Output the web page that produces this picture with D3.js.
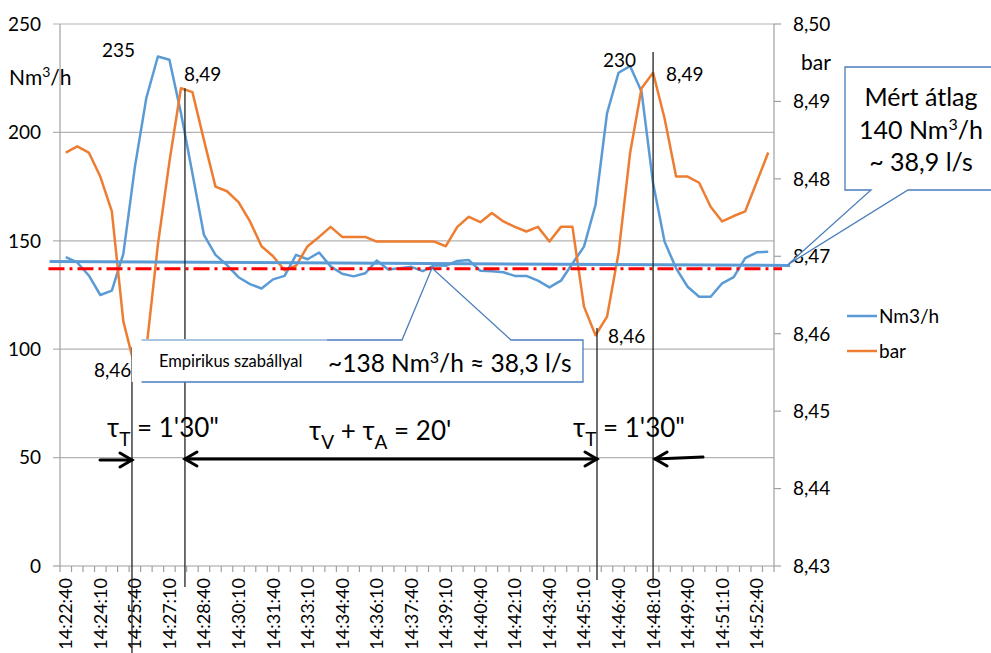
<!DOCTYPE html>
<html><head><meta charset="utf-8">
<script src="https://cdn.jsdelivr.net/npm/d3@7"></script>
<style>
body{margin:0;background:#fff}
svg{display:block}
text{font-family:Lato,'DejaVu Sans',sans-serif;fill:#000}
</style>
</head><body>
<svg id="c" width="991" height="653"></svg>
<script>
// ---------- data ----------
const times = ["14:22:40","14:23:10","14:23:40","14:24:10","14:24:40","14:25:10","14:25:40","14:26:10","14:26:40","14:27:10",
"14:27:40","14:28:10","14:28:40","14:29:10","14:29:40","14:30:10","14:30:40","14:31:10","14:31:40","14:32:10",
"14:32:40","14:33:10","14:33:40","14:34:10","14:34:40","14:35:10","14:35:40","14:36:10","14:36:40","14:37:10",
"14:37:40","14:38:10","14:38:40","14:39:10","14:39:40","14:40:10","14:40:40","14:41:10","14:41:40","14:42:10",
"14:42:40","14:43:10","14:43:40","14:44:10","14:44:40","14:45:10","14:45:40","14:46:10","14:46:40","14:47:10",
"14:47:40","14:48:10","14:48:40","14:49:10","14:49:40","14:50:10","14:50:40","14:51:10","14:51:40","14:52:10",
"14:52:40","14:53:10"];
const flow = [142.5,140,134,125,127,144,184,216,235,233.5,
209,181,152.7,143.5,138.8,133.2,130,128,132.2,133.8,
143.5,141.5,144.6,138.2,134.8,133.6,135,140.9,136.8,137.3,
138,136,138.7,138.5,140.7,141.1,136.2,136,135.5,133.8,
133.8,131.6,128.5,131.6,139.5,147.3,166.5,208.8,227.5,230.6,
218.8,176.5,149.6,137.3,128.8,124.2,124.2,130.4,133.2,142,
144.7,145];
const pressure = [8.4834,8.4842,8.4834,8.4803,8.4758,8.4616,8.4557,8.4580,8.4715,8.4822,
8.4917,8.4912,8.4850,8.4790,8.4784,8.4770,8.4745,8.4713,8.4700,8.4682,
8.4688,8.4713,8.4725,8.4738,8.4725,8.4725,8.4725,8.4719,8.4719,8.4719,
8.4719,8.4719,8.4719,8.4713,8.4738,8.4751,8.4744,8.4756,8.4745,8.4738,
8.4732,8.4738,8.4719,8.4738,8.4738,8.4635,8.4598,8.4622,8.4704,8.4833,
8.4917,8.4937,8.4878,8.4803,8.4803,8.4795,8.4764,8.4745,8.4752,8.4758,
8.4796,8.4834];
const leftTicks = [0,50,100,150,200,250];
const rightTicks = [8.43,8.44,8.45,8.46,8.47,8.48,8.49,8.50];
const measuredAvg = [140.5,138.6];   // "Mért átlag" line, start / end
const empiricalAvg = 137.1;          // red dash-dot line
const seriesNames = ["Nm3/h","bar"];

// ---------- layout ----------
const L=60,R=774,T=24,B=566;
const svg = d3.select("#c");
const x = d3.scaleLinear().domain([-0.5, times.length-0.5]).range([L,R]);
const yL = d3.scaleLinear().domain([0,250]).range([B,T]);
const yR = d3.scaleLinear().domain([8.43,8.50]).range([B,T]);
const BLUE="#5B9BD5", ORANGE="#ED7D31", GRID="#B3B3B3", AXIS="#A0A0A0";
const comma = v => d3.format(".2f")(v).replace(".",",");

// gridlines
svg.append("g").selectAll("line").data(leftTicks.filter(d=>d>0)).join("line")
  .attr("x1",L-7).attr("x2",R).attr("y1",d=>yL(d)).attr("y2",d=>yL(d))
  .attr("stroke",GRID).attr("stroke-width",1.2);
// left axis
svg.append("line").attr("x1",L).attr("x2",L).attr("y1",T).attr("y2",B).attr("stroke",AXIS).attr("stroke-width",1.2);
svg.append("line").attr("x1",L-7).attr("x2",L).attr("y1",B).attr("y2",B).attr("stroke",AXIS).attr("stroke-width",1.2);
svg.append("g").selectAll("text").data(leftTicks).join("text")
  .attr("x",41).attr("y",d=>yL(d)).attr("dy","0.36em").attr("text-anchor","end")
  .attr("font-size",19).text(d=>d);
// right axis
svg.append("line").attr("x1",R).attr("x2",R).attr("y1",T).attr("y2",B).attr("stroke",AXIS).attr("stroke-width",1.2);
svg.append("g").selectAll("line").data(rightTicks).join("line")
  .attr("x1",R).attr("x2",R+7).attr("y1",d=>yR(d)).attr("y2",d=>yR(d)).attr("stroke",AXIS).attr("stroke-width",1.2);
svg.append("g").selectAll("text").data(rightTicks).join("text")
  .attr("x",793).attr("y",d=>yR(d)).attr("dy","0.36em")
  .attr("font-size",19).text(d=>comma(d));
// x axis
svg.append("line").attr("x1",L).attr("x2",R).attr("y1",B).attr("y2",B).attr("stroke",AXIS).attr("stroke-width",1.2);
svg.append("g").selectAll("line").data(d3.range(-1,times.length)).join("line")
  .attr("x1",d=>x(d+0.5)).attr("x2",d=>x(d+0.5)).attr("y1",B).attr("y2",B+6)
  .attr("stroke",AXIS).attr("stroke-width",1.2);
svg.append("g").selectAll("text").data(times.map((t,i)=>({t,i})).filter(d=>d.i%3===0)).join("text")
  .attr("transform",d=>`translate(${x(d.i)},578) rotate(-90)`)
  .attr("text-anchor","end").attr("dy","0.36em").attr("font-size",18).text(d=>d.t);

// axis titles
const t1 = svg.append("text").attr("x",9).attr("y",85).attr("font-size",21);
t1.append("tspan").text("Nm");
t1.append("tspan").attr("dy",-8).attr("font-size",14).text("3");
t1.append("tspan").attr("dy",8).text("/h");
svg.append("text").attr("x",801).attr("y",70).attr("font-size",21).text("bar");

// series
const lineL = d3.line().x((d,i)=>x(i)).y(d=>yL(d));
const lineR = d3.line().x((d,i)=>x(i)).y(d=>yR(d));
svg.append("path").datum(flow).attr("d",lineL).attr("fill","none").attr("stroke",BLUE).attr("stroke-width",2.5).attr("stroke-linejoin","round");
svg.append("path").datum(pressure).attr("d",lineR).attr("fill","none").attr("stroke",ORANGE).attr("stroke-width",2.5).attr("stroke-linejoin","round");

// average lines
svg.append("line").attr("x1",x(-1.4)).attr("x2",x(62.9))
  .attr("y1",yL(measuredAvg[0])).attr("y2",yL(measuredAvg[1]))
  .attr("stroke",BLUE).attr("stroke-width",3);
svg.append("line").attr("x1",x(-1.5)).attr("x2",x(62.2))
  .attr("y1",yL(empiricalAvg)).attr("y2",yL(empiricalAvg))
  .attr("stroke","#FF0000").attr("stroke-width",3).attr("stroke-dasharray","16,5,3,5");

// vertical marker lines
const vlines = [{i:5.75,y1:347,y2:653},{i:10.35,y1:yR(8.4917),y2:587},{i:46.13,y1:328,y2:580},{i:51.0,y1:52,y2:584}];
svg.append("g").selectAll("line").data(vlines).join("line")
  .attr("x1",d=>x(d.i)).attr("x2",d=>x(d.i)).attr("y1",d=>d.y1).attr("y2",d=>d.y2)
  .attr("stroke","#222").attr("stroke-width",1.3);

// value labels
const vlabels = [{t:"235",x:x(8)-56,y:57},{t:"8,49",x:x(10.35)-1,y:81},{t:"230",x:x(49)-27,y:67},{t:"8,49",x:x(51)+13,y:81},
  {t:"8,46",x:x(5.75)-38,y:377},{t:"8,46",x:x(46.13)+11,y:343}];
svg.append("g").selectAll("text").data(vlabels).join("text")
  .attr("x",d=>d.x).attr("y",d=>d.y).attr("font-size",19).text(d=>d.t);

// callout 2 (Empirikus)
const c2 = {l:x(6.58),r:583,t:340,b:382};
svg.append("rect").attr("x",x(6.6)-10).attr("y",c2.t).attr("width",12).attr("height",c2.b-c2.t).attr("fill","#fff");
svg.append("path").attr("d",`M${c2.l},${c2.t}L402,${c2.t}L432,268L511,${c2.t}L${c2.r},${c2.t}L${c2.r},${c2.b}L${c2.l},${c2.b}Z`)
  .attr("fill","#fff").attr("stroke","none");
svg.append("path").attr("d",`M327,${c2.t}L402,${c2.t}L432,268L511,${c2.t}L${c2.r},${c2.t}L${c2.r},${c2.b}L${c2.l},${c2.b}`)
  .attr("fill","none").attr("stroke","#4A7EBB").attr("stroke-width",1.3);
svg.append("line").attr("x1",c2.l).attr("x2",327).attr("y1",c2.t).attr("y2",c2.t).attr("stroke","#A9C4E3").attr("stroke-width",2);
svg.append("text").attr("x",159).attr("y",367).attr("font-family","'Liberation Sans',Arial,sans-serif").attr("font-size",16.5).text("Empirikus szabállyal");
const e2 = svg.append("text").attr("x",328).attr("y",372).attr("font-size",24.5);
e2.append("tspan").text("~138 Nm");
e2.append("tspan").attr("dy",-9).attr("font-size",16).text("3");
e2.append("tspan").attr("dy",9).text("/h ≈ 38,3 l/s");

// callout 1 (Mért átlag)
const tip = [x(62.7), yL(139)];
svg.append("path").attr("d",`M845,67L995,67L995,190L908,190L${tip[0]},${tip[1]}L871,190L845,190Z`)
  .attr("fill","#fff").attr("stroke","#4A7EBB").attr("stroke-width",1.3);
const c1 = svg.append("g").attr("font-size",25).attr("text-anchor","middle");
c1.append("text").attr("x",921).attr("y",106).text("Mért átlag");
const c1b = c1.append("text").attr("x",921).attr("y",139);
c1b.append("tspan").text("140 Nm");
c1b.append("tspan").attr("dy",-9).attr("font-size",16).text("3");
c1b.append("tspan").attr("dy",9).text("/h");
c1.append("text").attr("x",921).attr("y",171).text("~ 38,9 l/s");

// legend
const leg = [{n:seriesNames[0],c:BLUE,y:316},{n:seriesNames[1],c:ORANGE,y:351}];
const lg = svg.append("g").selectAll("g").data(leg).join("g");
lg.append("line").attr("x1",847).attr("x2",877).attr("y1",d=>d.y).attr("y2",d=>d.y).attr("stroke",d=>d.c).attr("stroke-width",2.5);
lg.append("text").attr("x",879).attr("y",d=>d.y).attr("dy","0.36em").attr("font-size",19).text(d=>d.n);

// time annotations
const ann = svg.append("g").attr("font-size",26);
function tauText(x0,y0,parts){
  const t = ann.append("text").attr("x",x0).attr("y",y0);
  parts.forEach(p=>{
    const s = t.append("tspan").text(p.s);
    if(p.sub){ s.attr("dy",9).attr("font-size",19); }
    if(p.up){ s.attr("dy",-9); }
  });
}
tauText(107,437,[{s:"τ"},{s:"T",sub:1},{s:" = 1'30\"",up:1}]);
tauText(309,440,[{s:"τ"},{s:"V",sub:1},{s:" + τ",up:1},{s:"A",sub:1},{s:" = 20'",up:1}]);
tauText(573,437,[{s:"τ"},{s:"T",sub:1},{s:" = 1'30\"",up:1}]);

const ar = svg.append("g").attr("stroke","#000").attr("stroke-width",3).attr("fill","none").attr("stroke-linecap","round");
function head(px,py,dir){ // dir 1 right, -1 left
  ar.append("path").attr("d",`M${px-dir*12},${py-7}L${px},${py}L${px-dir*12},${py+7}`);
}
const ay = 459;
ar.append("line").attr("x1",100).attr("x2",x(5.75)).attr("y1",ay+1).attr("y2",ay+1); head(x(5.75),ay+1,1);
ar.append("line").attr("x1",x(10.35)).attr("x2",x(46.13)).attr("y1",ay).attr("y2",ay);
head(x(10.35),ay,-1); head(x(46.13),ay,1);
ar.append("line").attr("x1",703).attr("x2",x(51)+2).attr("y1",ay-2).attr("y2",ay); head(x(51)+2,ay,-1);
</script>
</body></html>
